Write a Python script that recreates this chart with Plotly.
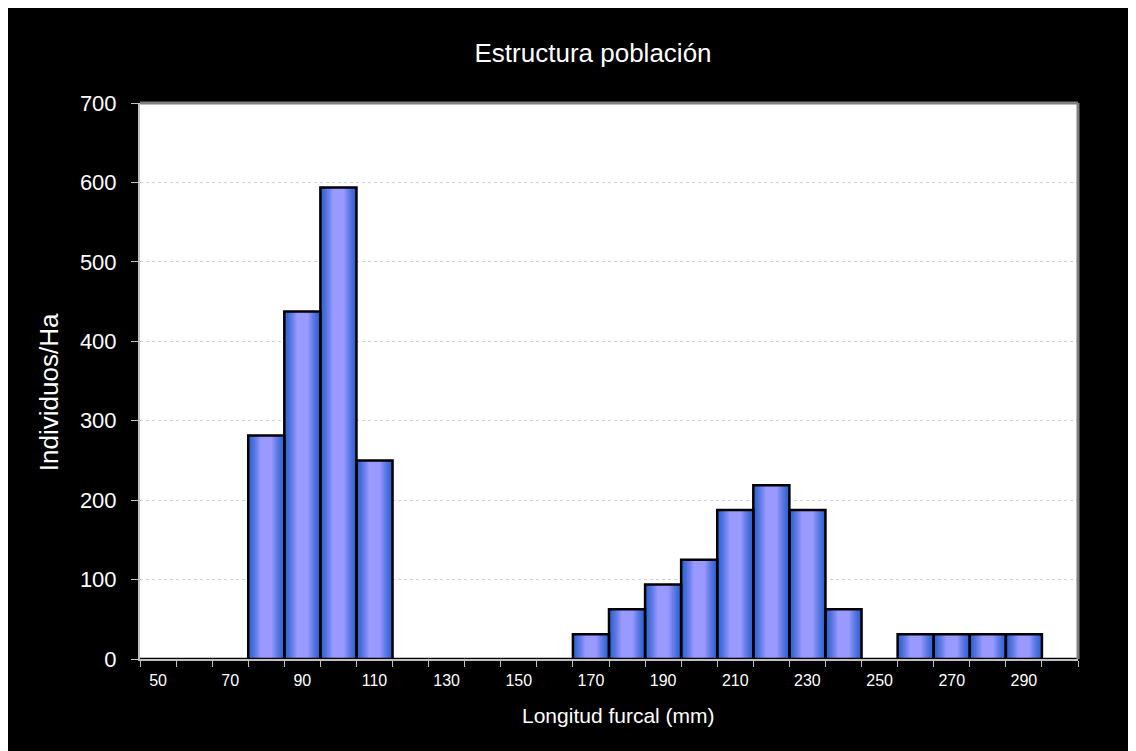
import numpy as np
import plotly.graph_objects as go

# ---- data ----
lengths = [50, 60, 70, 80, 90, 100, 110, 120, 130, 140, 150, 160, 170,
           180, 190, 200, 210, 220, 230, 240, 250, 260, 270, 280, 290, 300]
individuos = [0, 0, 0, 281.25, 437.5, 593.75, 250, 0, 0, 0, 0, 0, 31.25,
              62.5, 93.75, 125, 187.5, 218.75, 187.5, 62.5, 0, 31.25, 31.25,
              31.25, 31.25, 0]
tick_labels = [50, 70, 90, 110, 130, 150, 170, 190, 210, 230, 250, 270, 290]
boundaries = [v - 5 for v in lengths] + [lengths[-1] + 5]

title_text = "Estructura población"
x_title = "Longitud furcal (mm)"
y_title = "Individuos/Ha"

FONT = "Liberation Sans, Arial, sans-serif"

fig = go.Figure()

# gradient simulation: stacked overlay bars of decreasing width
edge = np.array([0x30, 0x62, 0xD0])
center = np.array([0x99, 0x99, 0xFF])
n_layers = 16
for k in range(n_layers):
    frac = k / (n_layers - 1)
    c = edge + (center - edge) * (frac ** 1.3)
    color = "rgb(%d,%d,%d)" % tuple(int(round(v)) for v in c)
    w = 10 * (1 - 0.68 * frac)
    fig.add_trace(go.Bar(
        x=lengths, y=individuos, width=w,
        marker=dict(color=color, line=dict(width=0)),
        hoverinfo="skip", showlegend=False))

# outline
fig.add_trace(go.Bar(
    x=lengths, y=individuos, width=10,
    marker=dict(color="rgba(0,0,0,0)", line=dict(color="black", width=2.5)),
    showlegend=False, name=y_title))

fig.update_layout(
    width=1128, height=743,
    barmode="overlay",
    paper_bgcolor="black",
    plot_bgcolor="white",
    margin=dict(l=132, r=58, t=95, b=92),
    font=dict(family=FONT, color="white"),
    title=dict(text=title_text, x=0.483, xref="paper", y=0.939, yref="container",
               xanchor="center", yanchor="middle",
               font=dict(size=26, color="white", family=FONT)),
    annotations=[
        dict(text=x_title, xref="paper", yref="paper", x=0.51, y=-0.102,
             showarrow=False, xanchor="center", yanchor="middle",
             font=dict(size=21, color="white", family=FONT)),
        dict(text=y_title, xref="paper", yref="paper", x=-0.097, y=0.48,
             showarrow=False, xanchor="center", yanchor="middle", textangle=-90,
             font=dict(size=26, color="white", family=FONT)),
    ],
    shapes=[
        dict(type="line", xref="paper", yref="paper", x0=0, x1=1, y0=1, y1=1,
             line=dict(color="#808080", width=3), layer="above"),
        dict(type="line", xref="paper", yref="paper", x0=1, x1=1, y0=0, y1=1,
             line=dict(color="#808080", width=3), layer="above"),
    ],
)

fig.update_xaxes(
    range=[45, 305],
    tickmode="array", tickvals=tick_labels,
    ticktext=[str(v) for v in tick_labels],
    ticks="outside", ticklen=6, tickcolor="black",
    tickfont=dict(size=16, color="white", family=FONT),
    showline=True, linecolor="#c0c0c0", linewidth=2,
    showgrid=False, zeroline=False,
    minor=dict(tickmode="array", tickvals=boundaries, ticks="outside",
               ticklen=6, tickcolor="#c0c0c0", tickwidth=1, showgrid=False),
)
fig.update_yaxes(
    range=[0, 700], dtick=100, tick0=0,
    ticks="outside", ticklen=7, tickcolor="#c0c0c0", tickwidth=1,
    tickfont=dict(size=22, color="white", family=FONT),
    ticklabelstandoff=10,
    showline=True, linecolor="#c0c0c0", linewidth=2,
    showgrid=True, gridcolor="#d0d0d0", griddash="dot", gridwidth=1,
    zeroline=False,
)

fig.write_html("out.html")
